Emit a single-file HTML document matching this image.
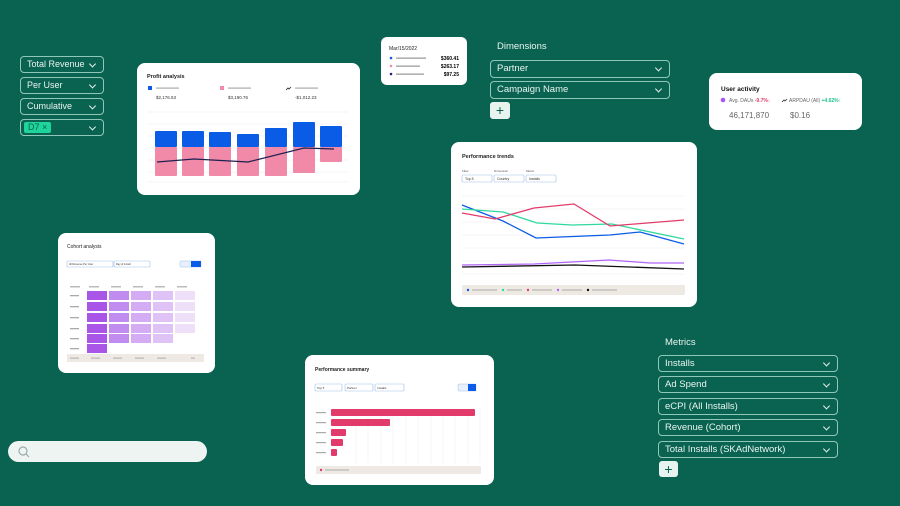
<!DOCTYPE html><html><head><style>
body{margin:0;width:900px;height:506px;background:#0a6251;position:relative;overflow:hidden;font-family:"Liberation Sans",sans-serif}
.a{position:absolute}
.dd{position:absolute;border:1.5px solid #8fc7b8;border-radius:4px;color:#e8f5f0;font-size:9.5px;box-sizing:border-box;padding-left:6px;display:flex;align-items:center;line-height:1}
.dd:after{content:"";position:absolute;right:8px;top:50%;width:4px;height:4px;border-right:1px solid #e8f5f0;border-bottom:1px solid #e8f5f0;transform:translateY(-70%) rotate(45deg)}
.card{position:absolute;background:#fff;border-radius:8px}
.plus{position:absolute;background:#e6f3ee;border-radius:3px;color:#0a6251;font-size:14px;text-align:center;line-height:17px}
</style></head><body>
<div class="dd" style="left:20px;top:56px;width:84px;height:17px;font-size:9px">Total Revenue</div>
<div class="dd" style="left:20px;top:77px;width:84px;height:17px;font-size:9px">Per User</div>
<div class="dd" style="left:20px;top:98px;width:84px;height:17px;font-size:9px">Cumulative</div>
<div class="dd" style="left:20px;top:119px;width:84px;height:17px;padding-left:3px"><span style="background:#1fd49a;color:#0a6251;border-radius:2px;padding:1px 4px;font-size:9px">D7 ×</span></div>

<div class="card" style="left:137px;top:63px;width:223px;height:132px">
<svg width="223" height="132" style="position:absolute;left:0;top:0">
<text x="10" y="15" font-size="5.5" font-weight="bold" fill="#222" font-family="Liberation Sans">Profit analysis</text>
<rect x="11" y="23" width="4" height="4" fill="#0a5ce6"/><rect x="19" y="24.5" width="23" height="1.2" fill="#aaa"/>
<rect x="83" y="23" width="4" height="4" fill="#f189a8"/><rect x="91" y="24.5" width="23" height="1.2" fill="#aaa"/>
<path d="M149 27l2-2 1 1 2-2" stroke="#222" fill="none" stroke-width=".8"/><rect x="158" y="24.5" width="23" height="1.2" fill="#aaa"/>
<g font-size="4.5" fill="#333" font-family="Liberation Sans"><text x="19" y="36">$2,176.53</text><text x="91" y="36">$3,190.76</text><text x="158" y="36">-$1,012.23</text></g>
<g stroke="#eee" stroke-width=".6"><line x1="10" x2="212" y1="49" y2="49"/><line x1="10" x2="212" y1="61" y2="61"/><line x1="10" x2="212" y1="73" y2="73"/><line x1="10" x2="212" y1="85" y2="85"/><line x1="10" x2="212" y1="97" y2="97"/><line x1="10" x2="212" y1="109" y2="109"/><line x1="10" x2="212" y1="119" y2="119"/></g>
<g fill="#0a5ce6"><rect x="18" y="68" width="22" height="16" rx="1"/><rect x="45" y="68" width="22" height="16" rx="1"/><rect x="72" y="69" width="22" height="15" rx="1"/><rect x="100" y="71" width="22" height="13" rx="1"/><rect x="128" y="65" width="22" height="19" rx="1"/><rect x="156" y="59" width="22" height="25" rx="1"/><rect x="183" y="63" width="22" height="21" rx="1"/></g>
<g fill="#f189a8"><rect x="18" y="84" width="22" height="29" rx="1"/><rect x="45" y="84" width="22" height="29" rx="1"/><rect x="72" y="84" width="22" height="29" rx="1"/><rect x="100" y="84" width="22" height="29" rx="1"/><rect x="128" y="84" width="22" height="29" rx="1"/><rect x="156" y="84" width="22" height="26" rx="1"/><rect x="183" y="84" width="22" height="15" rx="1"/></g>
<polyline points="20,99 57,96 111,99 167,85 197,86" fill="none" stroke="#1e2150" stroke-width="1.2"/>
</svg></div>

<div class="card" style="left:381px;top:37px;width:86px;height:48px;border-radius:6px">
<svg width="86" height="48" style="position:absolute;left:0;top:0" font-family="Liberation Sans">
<text x="8" y="13" font-size="5" fill="#222">Mar/15/2022</text>
<circle cx="10" cy="21" r="1.3" fill="#0a5ce6"/><rect x="15" y="20.4" width="30" height="1.5" fill="#aaa"/><text x="78" y="23" font-size="5" font-weight="bold" text-anchor="end">$360.41</text>
<circle cx="10" cy="29" r="1.3" fill="#f189a8"/><rect x="15" y="28.4" width="24" height="1.5" fill="#aaa"/><text x="78" y="31" font-size="5" font-weight="bold" text-anchor="end">$263.17</text>
<circle cx="10" cy="37" r="1.3" fill="#1e2180"/><rect x="15" y="36.4" width="28" height="1.5" fill="#aaa"/><text x="78" y="39" font-size="5" font-weight="bold" text-anchor="end">$97.25</text>
</svg></div>

<div class="a" style="left:497px;top:41px;color:#e8f5f0;font-size:9.5px">Dimensions</div>
<div class="dd" style="left:490px;top:60px;width:180px;height:18px">Partner</div>
<div class="dd" style="left:490px;top:81px;width:180px;height:18px">Campaign Name</div>
<div class="plus" style="left:490px;top:102px;width:20px;height:17px">+</div>

<div class="card" style="left:709px;top:73px;width:153px;height:57px">
<svg width="153" height="57" style="position:absolute;left:0;top:0" font-family="Liberation Sans">
<text x="12" y="18" font-size="6.5" font-weight="bold" fill="#111">User activity</text>
<circle cx="14" cy="27" r="2.3" fill="#a855f7"/><text x="20" y="29" font-size="5" fill="#666">Avg. DAUs <tspan fill="#e23b6b" font-weight="bold">-9.7%↓</tspan></text>
<path d="M73 29l2-2 1 1 2-2" stroke="#333" fill="none" stroke-width=".8"/><text x="80" y="29" font-size="5" fill="#666">ARPDAU (All) <tspan fill="#1fc48a" font-weight="bold">+4.62%↑</tspan></text>
<text x="20" y="45" font-size="8" fill="#666">46,171,870</text><text x="81" y="45" font-size="8" fill="#666">$0.16</text>
</svg></div>

<div class="card" style="left:451px;top:142px;width:246px;height:165px">
<svg width="246" height="165" style="position:absolute;left:0;top:0" font-family="Liberation Sans">
<text x="11" y="16" font-size="5.5" font-weight="bold" fill="#222">Performance trends</text>
<g font-size="3" fill="#555"><text x="11" y="30">Filter</text><text x="43" y="30">Dimension</text><text x="75" y="30">Metric</text></g>
<g fill="#fff" stroke="#9fbfe8" stroke-width=".6"><rect x="11" y="33" width="30" height="7" rx="1"/><rect x="43" y="33" width="30" height="7" rx="1"/><rect x="75" y="33" width="30" height="7" rx="1"/></g>
<g font-size="3.5" fill="#333"><text x="14" y="38">Top 5</text><text x="46" y="38">Country</text><text x="78" y="38">Installs</text></g>
<g stroke="#eee" stroke-width=".6"><line x1="11" x2="234" y1="54" y2="54"/><line x1="11" x2="234" y1="67" y2="67"/><line x1="11" x2="234" y1="80" y2="80"/><line x1="11" x2="234" y1="93" y2="93"/><line x1="11" x2="234" y1="106" y2="106"/><line x1="11" x2="234" y1="119" y2="119"/><line x1="11" x2="234" y1="132" y2="132"/></g>
<g fill="none" stroke-width="1.3">
<polyline stroke="#0a5ce6" points="11,63 52,79 85,96 159,93 189,90 233,102"/>
<polyline stroke="#2ed9a0" points="11,67 52,70 86,81 121,83 161,82 233,97"/>
<polyline stroke="#e23b6b" points="11,71 44,77 83,66 123,62 159,84 233,78"/>
<polyline stroke="#b066f5" points="11,123 83,122 158,118 199,121 233,121"/>
<polyline stroke="#111" points="11,125 124,123 233,127"/>
</g>
<rect x="11" y="143" width="223" height="10" rx="2" fill="#efe9e4"/>
<g><circle cx="17" cy="148" r="1.2" fill="#0a5ce6"/><rect x="21" y="147.5" width="25" height="1" fill="#aaa"/><circle cx="52" cy="148" r="1.2" fill="#2ed9a0"/><rect x="56" y="147.5" width="15" height="1" fill="#aaa"/><circle cx="77" cy="148" r="1.2" fill="#e23b6b"/><rect x="81" y="147.5" width="20" height="1" fill="#aaa"/><circle cx="107" cy="148" r="1.2" fill="#b066f5"/><rect x="111" y="147.5" width="20" height="1" fill="#aaa"/><circle cx="137" cy="148" r="1.2" fill="#111"/><rect x="141" y="147.5" width="25" height="1" fill="#aaa"/></g>
</svg></div>

<div class="card" style="left:58px;top:233px;width:157px;height:140px">
<svg width="157" height="140" style="position:absolute;left:0;top:0" font-family="Liberation Sans">
<text x="9" y="15" font-size="5" fill="#222">Cohort analysis</text>
<g fill="#fff" stroke="#9fbfe8" stroke-width=".6"><rect x="9" y="28" width="46" height="6" rx="1"/><rect x="56" y="28" width="36" height="6" rx="1"/></g>
<g font-size="2.5" fill="#333"><text x="11" y="32">All Revenue Per User</text><text x="58" y="32">Day of Install</text></g>
<rect x="122" y="28" width="21" height="6" rx="1" fill="#e8f0fc" stroke="#9fbfe8" stroke-width=".5"/><rect x="133" y="28" width="10" height="6" fill="#0a5ce6"/>
<g fill="#bbb">
<rect x="12" y="53" width="10" height="1.5"/><rect x="31" y="53" width="10" height="1.5"/><rect x="53" y="53" width="10" height="1.5"/><rect x="75" y="53" width="10" height="1.5"/><rect x="97" y="53" width="10" height="1.5"/><rect x="119" y="53" width="10" height="1.5"/>
</g>
<g fill="#a855e8"><rect x="29" y="58" width="20" height="9"/><rect x="29" y="69" width="20" height="9"/><rect x="29" y="80" width="20" height="9"/><rect x="29" y="91" width="20" height="9"/><rect x="29" y="101" width="20" height="9"/><rect x="29" y="111" width="20" height="9"/></g>
<g fill="#c08cf0"><rect x="51" y="58" width="20" height="9"/><rect x="51" y="69" width="20" height="9"/><rect x="51" y="80" width="20" height="9"/><rect x="51" y="91" width="20" height="9"/><rect x="51" y="101" width="20" height="9"/></g>
<g fill="#d3acf4"><rect x="73" y="58" width="20" height="9"/><rect x="73" y="69" width="20" height="9"/><rect x="73" y="80" width="20" height="9"/><rect x="73" y="91" width="20" height="9"/><rect x="73" y="101" width="20" height="9"/></g>
<g fill="#dfc3f7"><rect x="95" y="58" width="20" height="9"/><rect x="95" y="69" width="20" height="9"/><rect x="95" y="80" width="20" height="9"/><rect x="95" y="91" width="20" height="9"/><rect x="95" y="101" width="20" height="9"/></g>
<g fill="#efe0fa"><rect x="117" y="58" width="20" height="9"/><rect x="117" y="69" width="20" height="9"/><rect x="117" y="80" width="20" height="9"/><rect x="117" y="91" width="20" height="9"/></g>
<g fill="#aaa"><rect x="12" y="62" width="9" height="1.3"/><rect x="12" y="73" width="9" height="1.3"/><rect x="12" y="84" width="9" height="1.3"/><rect x="12" y="95" width="9" height="1.3"/><rect x="12" y="105" width="9" height="1.3"/><rect x="12" y="115" width="9" height="1.3"/></g>
<rect x="9" y="121" width="137" height="8" fill="#efe9e4"/>
<g fill="#bbb"><rect x="12" y="124.5" width="9" height="1.3"/><rect x="33" y="124.5" width="9" height="1.3"/><rect x="55" y="124.5" width="9" height="1.3"/><rect x="77" y="124.5" width="9" height="1.3"/><rect x="99" y="124.5" width="9" height="1.3"/><rect x="133" y="124.5" width="4" height="1.3"/></g>
</svg></div>

<div class="card" style="left:305px;top:355px;width:189px;height:130px">
<svg width="189" height="130" style="position:absolute;left:0;top:0" font-family="Liberation Sans">
<text x="10" y="16" font-size="5" font-weight="bold" fill="#222">Performance summary</text>
<g fill="#fff" stroke="#9fbfe8" stroke-width=".6"><rect x="10" y="29" width="27" height="7" rx="1"/><rect x="40" y="29" width="28" height="7" rx="1"/><rect x="70" y="29" width="29" height="7" rx="1"/></g>
<g font-size="3" fill="#333"><text x="12" y="34">Top 5</text><text x="42" y="34">Partner</text><text x="72" y="34">Installs</text></g>
<rect x="153" y="29" width="18" height="7" rx="1" fill="#e8f0fc" stroke="#9fbfe8" stroke-width=".5"/><rect x="163" y="29" width="8" height="7" fill="#0a5ce6"/>
<g stroke="#eee" stroke-width=".6"><line x1="51" x2="51" y1="52" y2="108"/><line x1="63" x2="63" y1="52" y2="108"/><line x1="76" x2="76" y1="52" y2="108"/><line x1="88" x2="88" y1="52" y2="108"/><line x1="101" x2="101" y1="52" y2="108"/><line x1="113" x2="113" y1="52" y2="108"/><line x1="126" x2="126" y1="52" y2="108"/><line x1="138" x2="138" y1="52" y2="108"/><line x1="150" x2="150" y1="52" y2="108"/><line x1="163" x2="163" y1="52" y2="108"/><line x1="175" x2="175" y1="52" y2="108"/></g>
<g fill="#e23b6b"><rect x="26" y="54" width="144" height="7" rx="1"/><rect x="26" y="64" width="59" height="7" rx="1"/><rect x="26" y="74" width="15" height="7" rx="1"/><rect x="26" y="84" width="12" height="7" rx="1"/><rect x="26" y="94" width="6" height="7" rx="1"/></g>
<g fill="#aaa"><rect x="11" y="57" width="10" height="1.2"/><rect x="11" y="67" width="10" height="1.2"/><rect x="11" y="77" width="10" height="1.2"/><rect x="11" y="87" width="10" height="1.2"/><rect x="11" y="97" width="10" height="1.2"/></g>
<rect x="11" y="111" width="165" height="8" rx="1" fill="#efe9e4"/><circle cx="16" cy="115" r="1.2" fill="#e23b6b"/><rect x="20" y="114.5" width="24" height="1" fill="#aaa"/>
</svg></div>

<div class="a" style="left:665px;top:337px;color:#e8f5f0;font-size:9.5px">Metrics</div>
<div class="dd" style="left:658px;top:355px;width:180px;height:17px">Installs</div>
<div class="dd" style="left:658px;top:376px;width:180px;height:17px">Ad Spend</div>
<div class="dd" style="left:658px;top:398px;width:180px;height:17px">eCPI (All Installs)</div>
<div class="dd" style="left:658px;top:419px;width:180px;height:17px">Revenue (Cohort)</div>
<div class="dd" style="left:658px;top:441px;width:180px;height:17px">Total Installs (SKAdNetwork)</div>
<div class="plus" style="left:659px;top:461px;width:19px;height:16px;line-height:16px">+</div>

<div class="a" style="left:8px;top:441px;width:199px;height:21px;background:#eef4f2;border-radius:11px">
<svg width="20" height="21" style="position:absolute;left:6px;top:0"><circle cx="9" cy="10" r="4" fill="none" stroke="#9aa" stroke-width="1.2"/><line x1="12" y1="13" x2="15" y2="16" stroke="#9aa" stroke-width="1.2"/></svg></div>
</body></html>
